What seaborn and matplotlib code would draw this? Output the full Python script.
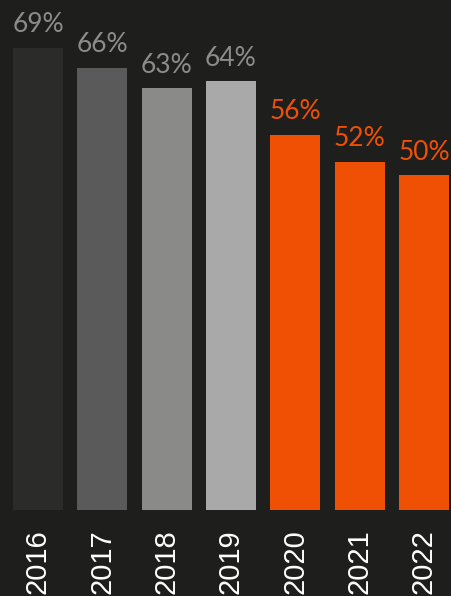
import pandas as pd
import matplotlib.pyplot as plt
import seaborn as sns

years = ['2016', '2017', '2018', '2019', '2020', '2021', '2022']
share = [69, 66, 63, 64, 56, 52, 50]
bar_colors = ['#2b2b2a', '#5a5a5a', '#8a8a88', '#a9a9a9', '#f05004', '#f05004', '#f05004']
label_colors = ['#8c8c8c', '#8c8c8c', '#8c8c8c', '#8c8c8c', '#f05004', '#f05004', '#f05004']

bg = '#1e1e1c'
df = pd.DataFrame({'year': years, 'share': share})

sns.set_style('dark')
plt.rcParams['font.family'] = ['Liberation Sans', 'DejaVu Sans']

fig = plt.figure(figsize=(4.51, 5.96), dpi=100, facecolor=bg)
ax = fig.add_axes([0, 0.1443, 1, 0.8557])
ax.set_facecolor(bg)

sns.barplot(data=df, x='year', y='share', hue='year', palette=bar_colors,
            dodge=False, width=0.78, legend=False, saturation=1,
            linewidth=0, edgecolor='none', ax=ax)

for i, v in enumerate(share):
    ax.annotate(f'{v}%', xy=(i, v), xytext=(0, 11), textcoords='offset points',
                ha='center', va='baseline', fontsize=19, color=label_colors[i],
                family=['Lato', 'DejaVu Sans'])

ax.set_xlim(-0.59, 6.42)
ax.set_ylim(0, 76.1)
ax.set(xlabel='', ylabel='')
ax.set_yticks([])
ax.tick_params(axis='x', length=0, pad=14, labelsize=21, labelcolor='white',
               labelrotation=90)
ax.grid(False)
for s in ax.spines.values():
    s.set_visible(False)

fig.savefig('out.png', dpi=100, facecolor=bg)
